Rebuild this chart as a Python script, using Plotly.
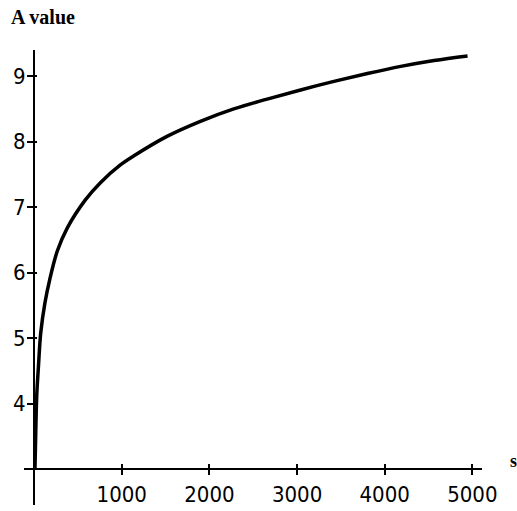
import plotly.graph_objects as go

s_vals = [10, 19, 30, 50, 76, 124, 178, 265, 378, 585, 754, 981, 1135, 1516, 1897, 2278,
          2659, 3040, 3421, 3802, 4183, 4563, 4945]
a_vals = [3.0, 3.55, 4.11, 4.57, 5.08, 5.54, 5.89, 6.33, 6.68, 7.11, 7.37, 7.64, 7.78, 8.08, 8.31, 8.50,
          8.65, 8.79, 8.92, 9.04, 9.15, 9.24, 9.31]
x_ticks = [1000, 2000, 3000, 4000, 5000]
y_ticks = [4, 5, 6, 7, 8, 9]

X_RANGE = [-115, 5110]
Y_RANGE = [2.45, 9.40]
x_pos = (0 - X_RANGE[0]) / (X_RANGE[1] - X_RANGE[0])
y_pos = (3 - Y_RANGE[0]) / (Y_RANGE[1] - Y_RANGE[0])

tick_font = dict(family="Liberation Sans Narrow, DejaVu Sans Condensed, sans-serif", size=22, color="black")

fig = go.Figure()
fig.add_trace(go.Scatter(x=s_vals, y=a_vals, mode="lines",
                         line=dict(color="black", width=3.5, shape="spline", smoothing=1.0),
                         hoverinfo="skip", showlegend=False))
# helper trace to activate overlay axes for the inner half of the tick crosses
fig.add_trace(go.Scatter(x=[None], y=[None], xaxis="x2", yaxis="y2", showlegend=False, hoverinfo="skip"))

fig.update_layout(
    width=517, height=511,
    margin=dict(l=24, r=35, t=50, b=6),
    paper_bgcolor="white", plot_bgcolor="white",
    xaxis=dict(range=X_RANGE, anchor="free", position=y_pos, showgrid=False, zeroline=False,
               automargin=False,
               showline=True, linecolor="black", linewidth=2,
               tickmode="array", tickvals=x_ticks, ticktext=[str(v) for v in x_ticks],
               ticks="outside", ticklen=5, tickwidth=1.5, tickcolor="black",
               tickfont=tick_font, ticklabelstandoff=1),
    yaxis=dict(range=Y_RANGE, anchor="free", position=x_pos, showgrid=False, zeroline=False,
               automargin=False,
               showline=True, linecolor="black", linewidth=2,
               tickmode="array", tickvals=y_ticks, ticktext=[str(v) for v in y_ticks],
               ticks="outside", ticklen=6, tickwidth=1.5, tickcolor="black",
               tickfont=tick_font, ticklabelstandoff=-3),
    xaxis2=dict(range=X_RANGE, overlaying="x", anchor="free", position=y_pos, showgrid=False,
                automargin=False,
                zeroline=False, showline=False, tickmode="array", tickvals=x_ticks,
                showticklabels=False, ticks="inside", ticklen=5, tickwidth=1.5, tickcolor="black"),
    yaxis2=dict(range=Y_RANGE, overlaying="y", anchor="free", position=x_pos, showgrid=False,
                automargin=False,
                zeroline=False, showline=False, tickmode="array", tickvals=y_ticks,
                showticklabels=False, ticks="inside", ticklen=2, tickwidth=1.5, tickcolor="black"),
    annotations=[
        dict(text="<b>A value</b>", xref="paper", yref="paper", x=0, y=1.0, xshift=-15, yshift=33,
             xanchor="left", yanchor="middle", showarrow=False,
             font=dict(family="Liberation Serif, serif", size=20, color="black")),
        dict(text="<b>s</b>", xref="paper", yref="paper", x=1.0, y=y_pos, xshift=31, yshift=8,
             xanchor="center", yanchor="middle", showarrow=False,
             font=dict(family="Liberation Serif, serif", size=18, color="black")),
    ],
)

fig.write_html("out.html", config={"displayModeBar": False},
               post_script="document.body.style.margin='0';")
